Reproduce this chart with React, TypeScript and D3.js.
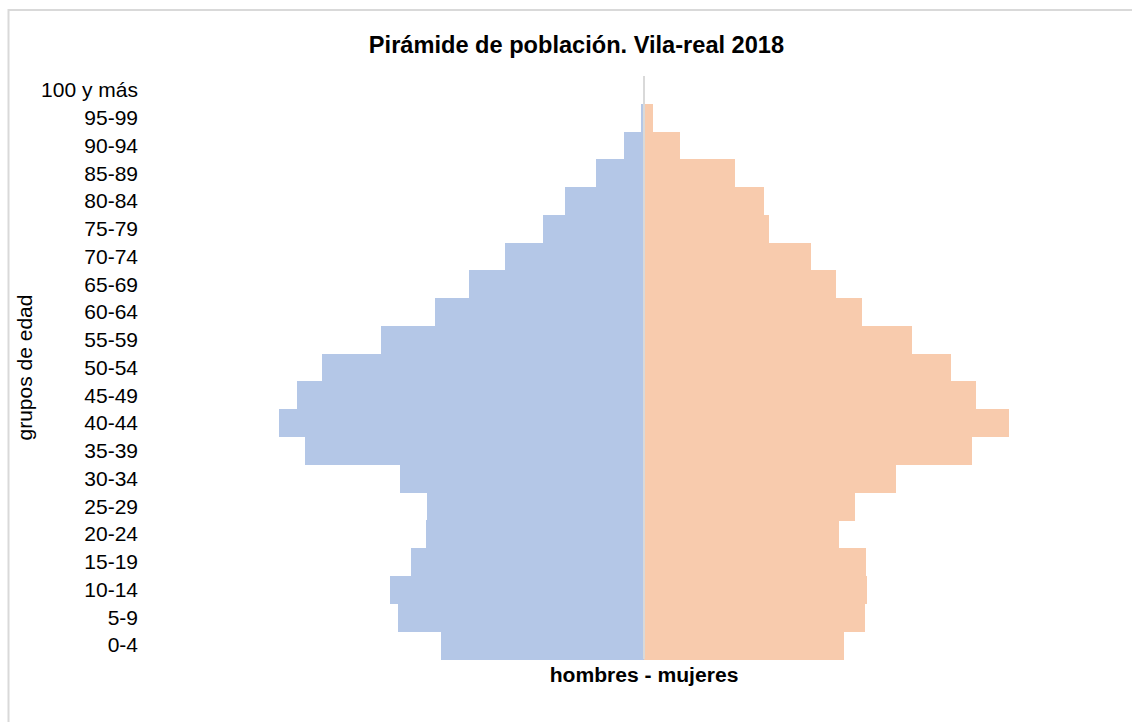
import React from "react";
import * as d3 from "d3";

const ageGroups = ["0-4","5-9","10-14","15-19","20-24","25-29","30-34","35-39","40-44","45-49","50-54","55-59","60-64","65-69","70-74","75-79","80-84","85-89","90-94","95-99","100 y más"];
const hombres = [1234,1496,1547,1414,1328,1322,1484,2064,2219,2110,1955,1602,1268,1061,848,614,483,292,119,16,3];
const mujeres = [1215,1341,1355,1351,1187,1284,1531,1996,2221,2017,1867,1628,1325,1166,1017,760,730,551,217,53,3];

const W = 1132, H = 722;
const FONT = "Arial, 'Liberation Sans', Helvetica, sans-serif";

export default function App() {
  const x = d3.scaleLinear().domain([-2500, 2500]).range([644 - 411.2, 644 + 411.2]);
  const y = d3.scaleBand<string>().domain([...ageGroups].reverse()).range([76, 659]).padding(0);
  const bw = y.bandwidth();
  return (
    <svg width={W} height={H} style={{ position: "absolute", left: 0, top: 0, background: "#fff" }} fontFamily={FONT}>
      <rect x={8.5} y={10} width={1137} height={740} fill="#fff" stroke="#d9d9d9" strokeWidth={2} />
      <text x={576.5} y={53} textAnchor="middle" fontSize={23.6} fontWeight="bold" fill="#000">Pirámide de población. Vila-real 2018</text>
      <g shapeRendering="crispEdges">
        {ageGroups.map((g, i) => (
          <rect key={"h" + g} x={x(-hombres[i])} y={y(g)!} width={x(0) - x(-hombres[i])} height={bw + 0.5} fill="#b4c7e7" />
        ))}
        {ageGroups.map((g, i) => (
          <rect key={"m" + g} x={x(0)} y={y(g)!} width={x(mujeres[i]) - x(0)} height={bw + 0.5} fill="#f8cbad" />
        ))}
      </g>
      <line x1={x(0)} x2={x(0)} y1={76} y2={659} stroke="#d9d9d9" strokeWidth={2} />
      {ageGroups.map((g) => (
        <text key={"l" + g} x={138} y={y(g)! + bw / 2} dy="0.35em" textAnchor="end" fontSize={21} fill="#000">{g}</text>
      ))}
      <text transform={`translate(32,367.5) rotate(-90)`} textAnchor="middle" fontSize={21} fill="#000">grupos de edad</text>
      <text x={644} y={682} textAnchor="middle" fontSize={21.1} fontWeight="bold" fill="#000">hombres - mujeres</text>
    </svg>
  );
}
